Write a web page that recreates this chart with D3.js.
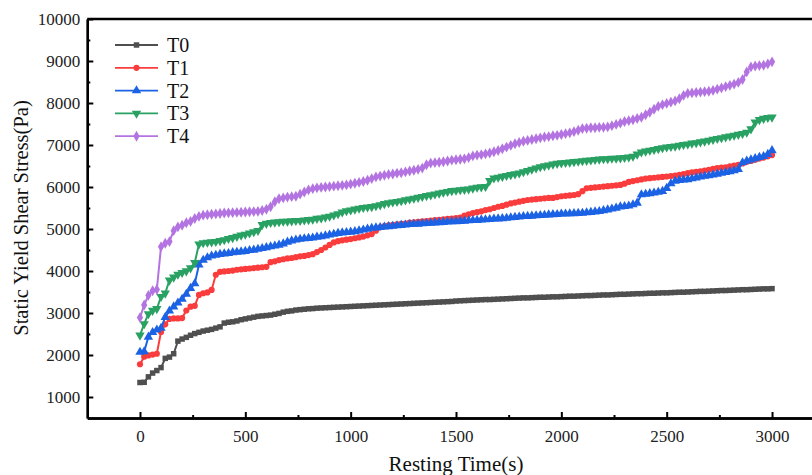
<!DOCTYPE html>
<html lang="en">
<head>
<meta charset="UTF-8">
<title>Static Yield Shear Stress vs Resting Time</title>
<script src="https://d3js.org/d3.v7.min.js"></script>
<style>
  body { margin: 0; background: #fff; }
  svg { display: block; font-family: "Liberation Serif", "Times New Roman", Times, serif; }
</style>
</head>
<body>
<div id="chart"></div>
<script>
// 时间轴 (s)，每20 s 一个点
const times = d3.range(0, 3001, 20);

const seriesNames = ["T0", "T1", "T2", "T3", "T4"];
const seriesColors = ["#4f4f4f", "#fb3c3c", "#1c62e4", "#29a163", "#b374e2"];

// 数据从图中读取
const t0 = [
  1345,1350,1480,1570,1630,1700,1920,1950,2030,2330,2380,2420,2470,2510,2540,2570,2590,2610,2640,2670,
  2760,2780,2790,2810,2840,2860,2880,2900,2920,2930,2940,2950,2970,2990,3020,3040,3050,3070,3080,3090,
  3100,3105,3115,3120,3125,3130,3135,3140,3145,3150,3155,
  3160,3165,3170,3175,3180,3185,3190,3195,3200,3205,3210,3215,3220,3225,3230,3235,3240,3245,3250,3255,3260,3265,3270,3275,3285,
  3290,3295,3300,3305,3310,3315,3320,3320,3325,3330,3335,3340,3345,3350,3355,3360,3360,3365,3370,3375,3375,3380,3385,3385,3390,
  3395,3400,3400,3405,3410,3415,3415,3420,3425,3430,3430,3435,3440,3445,3445,3450,3455,3460,3460,3465,3470,3470,3475,3480,3480,
  3485,3490,3495,3495,3500,3505,3510,3515,3515,3520,3525,3530,3535,3535,3540,3545,3550,3555,3555,3560,3565,3570,3575,3575,3580
];
const t1 = [
  1780,1960,1990,2010,2030,2550,2730,2860,2870,2870,2880,3060,3150,3170,3430,3470,3490,3550,3910,3980,
  3990,4000,4010,4030,4040,4050,4060,4070,4080,4090,4100,4210,4230,4260,4280,4300,4310,4330,4350,4360,
  4380,4400,4450,4500,4560,4620,4680,4710,4730,4745,4760,
  4780,4800,4820,4850,4880,4960,5040,5070,5090,5100,5110,5120,5130,5150,5160,5170,5180,5190,5200,5210,5220,5230,5240,5250,5260,
  5270,5320,5350,5380,5400,5420,5450,5470,5500,5530,5550,5580,5610,5630,5650,5670,5690,5700,5710,5720,5730,5740,5740,5760,5780,
  5790,5800,5810,5830,5900,5970,5980,5990,6000,6010,6020,6030,6040,6050,6080,6120,6140,6160,6180,6200,6210,6220,6230,6240,6250,
  6260,6270,6290,6310,6330,6350,6360,6370,6390,6410,6430,6450,6460,6470,6490,6510,6530,6560,6600,6620,6650,6680,6700,6730,6760
];
const t2 = [
  2070,2080,2430,2540,2600,2640,2900,3050,3150,3240,3330,3450,3590,3700,4150,4260,4320,4360,4380,4400,
  4410,4420,4440,4450,4460,4470,4490,4500,4520,4540,4560,4580,4600,4620,4650,4690,4720,4740,4760,4770,
  4780,4790,4810,4820,4840,4860,4880,4900,4910,4920,4930,
  4940,4960,4980,5000,5020,5030,5040,5050,5060,5070,5080,5090,5100,5110,5115,5120,5130,5135,5140,5150,5155,5160,5170,5175,5180,
  5185,5190,5200,5205,5210,5220,5225,5230,5240,5245,5250,5260,5270,5280,5290,5300,5305,5310,5320,5325,5330,5340,5345,5350,5360,
  5360,5365,5370,5375,5380,5390,5400,5410,5420,5440,5460,5480,5500,5530,5540,5550,5580,5620,5820,5830,5845,5860,5880,5900,5970,
  6080,6140,6160,6170,6180,6200,6220,6240,6260,6270,6290,6310,6330,6350,6370,6390,6420,6580,6620,6650,6680,6710,6730,6780,6870
];
const t3 = [
  2470,2740,2980,3060,3100,3390,3470,3780,3850,3920,3960,4000,4070,4200,4640,4670,4680,4690,4700,4720,
  4740,4770,4790,4820,4850,4870,4900,4930,4960,5100,5130,5150,5160,5170,5180,5180,5190,5200,5200,5210,
  5220,5230,5250,5260,5280,5300,5330,5360,5400,5430,5450,
  5470,5490,5510,5520,5530,5550,5570,5600,5620,5640,5650,5670,5690,5710,5730,5750,5770,5790,5810,5830,5850,5870,5890,5910,5920,
  5930,5940,5950,5970,5990,6000,6010,6150,6210,6230,6250,6270,6290,6310,6330,6360,6390,6420,6450,6480,6500,6520,6540,6560,6570,
  6580,6590,6600,6610,6620,6630,6640,6650,6660,6670,6670,6680,6680,6690,6700,6710,6730,6780,6830,6850,6870,6890,6910,6930,6950,
  6960,6970,6990,7010,7020,7040,7050,7070,7090,7110,7130,7150,7170,7190,7210,7230,7250,7270,7300,7380,7540,7600,7630,7650,7660
];
const t4 = [
  2890,3190,3420,3530,3560,4580,4660,4700,4960,5050,5090,5150,5180,5250,5300,5330,5340,5350,5360,5370,
  5380,5385,5390,5395,5400,5405,5410,5415,5420,5440,5470,5530,5650,5720,5740,5760,5770,5780,5830,5880,
  5930,5960,5980,5990,6000,6010,6020,6030,6040,6050,6070,
  6090,6110,6130,6160,6200,6240,6260,6280,6300,6310,6330,6340,6360,6380,6400,6420,6450,6530,6570,6580,6590,6600,6620,6640,6650,
  6660,6670,6700,6740,6760,6770,6790,6810,6840,6870,6910,6950,6990,7030,7060,7090,7110,7130,7150,7170,7190,7200,7220,7230,7250,
  7270,7290,7320,7350,7390,7400,7410,7410,7420,7420,7430,7460,7490,7520,7560,7580,7600,7630,7660,7720,7780,7850,7920,7960,7990,
  8020,8050,8100,8180,8230,8240,8250,8260,8270,8280,8300,8330,8360,8390,8420,8450,8490,8560,8740,8860,8880,8890,8900,8930,8980
];

const xTicks = [0, 500, 1000, 1500, 2000, 2500, 3000];
const yTicks = [1000, 2000, 3000, 4000, 5000, 6000, 7000, 8000, 9000, 10000];

const allSeries = [t0, t1, t2, t3, t4];
const symbols = [d3.symbolSquare, d3.symbolCircle, d3.symbolTriangle, d3.symbolTriangle, d3.symbolDiamond];
const symbolSizes = [30, 30, 38, 38, 34];
const symbolRotate = [0, 0, 0, 180, 0];

const width = 812, height = 475;

const svg = d3.select("#chart").append("svg")
  .attr("width", width)
  .attr("height", height);

const x = d3.scaleLinear().domain([-250, 3250]).range([87.3, 824.7]);
const y = d3.scaleLinear().domain([500, 10000]).range([418, 19]);

// 坐标轴
svg.append("g")
  .attr("transform", `translate(0,${y(500)})`)
  .call(d3.axisBottom(x).tickValues(xTicks).tickSize(-6).tickSizeOuter(0).tickPadding(12).tickFormat(d3.format("d")));

svg.append("g")
  .attr("transform", `translate(0,${y(500)})`)
  .call(d3.axisBottom(x).tickValues([250, 750, 1250, 1750, 2250, 2750]).tickSize(-3).tickSizeOuter(0).tickFormat(""));

svg.append("g")
  .attr("transform", `translate(${x(-250)},0)`)
  .call(d3.axisLeft(y).tickValues(yTicks).tickSize(-6).tickSizeOuter(0).tickPadding(7).tickFormat(d3.format("d")));

svg.append("g")
  .attr("transform", `translate(${x(-250)},0)`)
  .call(d3.axisLeft(y).tickValues([1500, 2500, 3500, 4500, 5500, 6500, 7500, 8500, 9500]).tickSize(-3).tickSizeOuter(0).tickFormat(""));

svg.selectAll(".domain").attr("stroke", "#000").attr("stroke-width", 2.4);
svg.selectAll(".tick line").attr("stroke", "#000").attr("stroke-width", 2);
svg.selectAll(".tick text")
  .attr("fill", "#222")
  .style("font-family", '"Liberation Serif", "Times New Roman", serif')
  .style("font-size", "17px");

// 上边框和右边框
svg.append("line")
  .attr("x1", x(-250)).attr("x2", x(3250))
  .attr("y1", y(10000)).attr("y2", y(10000))
  .attr("stroke", "#000").attr("stroke-width", 2.4);
svg.append("line")
  .attr("x1", x(3250)).attr("x2", x(3250))
  .attr("y1", y(10000)).attr("y2", y(500))
  .attr("stroke", "#000").attr("stroke-width", 2.4);

// 轴标题
svg.append("text")
  .attr("x", 456).attr("y", 471)
  .attr("text-anchor", "middle")
  .style("font-size", "21px")
  .attr("fill", "#111")
  .text("Resting Time(s)");

svg.append("text")
  .attr("transform", `translate(28,218) rotate(-90)`)
  .attr("text-anchor", "middle")
  .style("font-size", "20.5px")
  .attr("fill", "#111")
  .text("Static Yield Shear Stress(Pa)");

// 绘制折线和标记
const line = d3.line().x((d, i) => x(times[i])).y(d => y(d));

allSeries.forEach((vals, k) => {
  const g = svg.append("g");
  g.append("path")
    .datum(vals)
    .attr("d", line)
    .attr("fill", "none")
    .attr("stroke", seriesColors[k])
    .attr("stroke-width", 2);
  g.selectAll("path.pt")
    .data(vals)
    .enter().append("path")
    .attr("class", "pt")
    .attr("d", d3.symbol().type(symbols[k]).size(symbolSizes[k]))
    .attr("transform", (d, i) => `translate(${x(times[i])},${y(d)}) rotate(${symbolRotate[k]})`)
    .attr("fill", seriesColors[k]);
});

// 图例
const legend = svg.append("g");
seriesNames.forEach((name, k) => {
  const ly = 45 + k * 22.8;
  legend.append("line")
    .attr("x1", 115).attr("x2", 158)
    .attr("y1", ly).attr("y2", ly)
    .attr("stroke", seriesColors[k]).attr("stroke-width", 1.8);
  legend.append("path")
    .attr("d", d3.symbol().type(symbols[k]).size(symbolSizes[k]))
    .attr("transform", `translate(136.5,${ly}) rotate(${symbolRotate[k]})`)
    .attr("fill", seriesColors[k]);
  legend.append("text")
    .attr("x", 167).attr("y", ly + 7)
    .style("font-size", "20px")
    .attr("fill", "#111")
    .text(name);
});
</script>
</body>
</html>
